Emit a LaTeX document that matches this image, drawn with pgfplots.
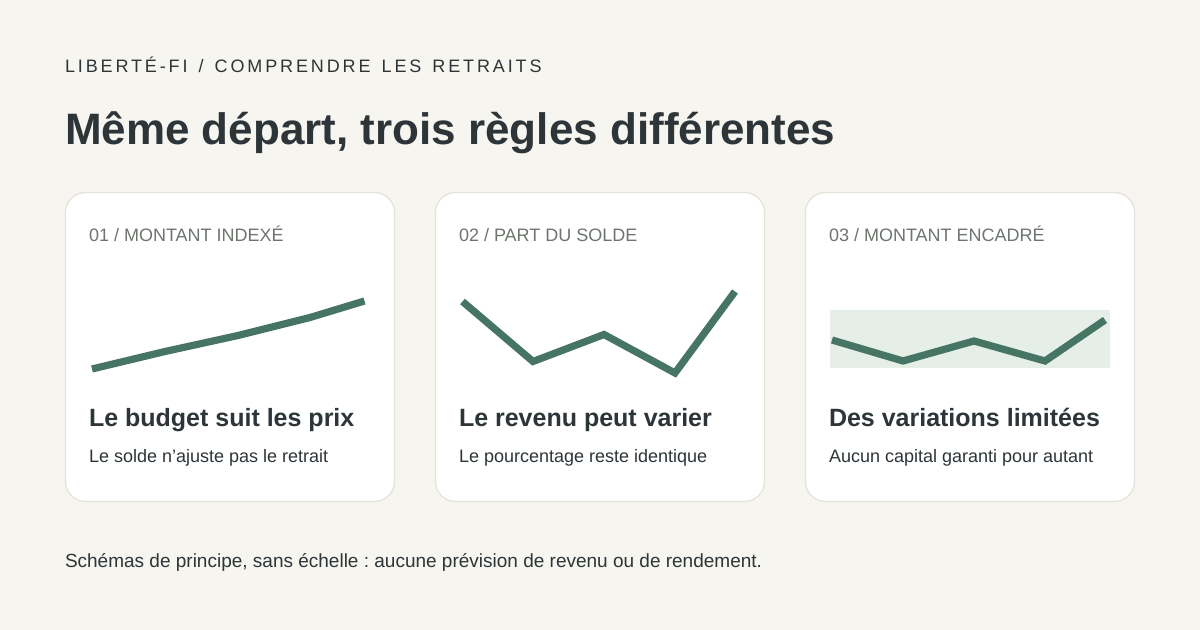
\documentclass[border=0pt]{standalone}
\usepackage{pgfplots}
\pgfplotsset{compat=1.18}
\usepackage{fontspec}
\setmainfont{Liberation Sans}
\newfontfamily\eyebrowfont[LetterSpace=16,WordSpace=1.4]{Liberation Sans}
\frenchspacing
\definecolor{bg}{HTML}{F6F5F0}
\definecolor{ink}{HTML}{2D3538}
\definecolor{muted}{HTML}{6E756E}
\definecolor{cardedge}{HTML}{E3E1DA}
\definecolor{green}{HTML}{477565}
\definecolor{band}{HTML}{E5EEE7}
\tikzset{txt/.style={anchor=base west, inner sep=0pt, outer sep=0pt},
  card/.style={draw=cardedge, fill=white, line width=0.9pt, rounded corners=15pt}}
\begin{document}
\begin{tikzpicture}
\begin{axis}[
  at={(0pt,0pt)}, anchor=south west,
  scale only axis, width=900pt, height=472.5pt,
  xmin=0, xmax=1200, ymin=0, ymax=630, y dir=reverse,
  axis lines=none, clip=false,
]
\fill[bg] (axis cs:0,0) rectangle (axis cs:1200,630);
\draw[card] (axis cs:65.5,192.5) rectangle (axis cs:394.5,501.5);
\draw[card] (axis cs:435.5,192.5) rectangle (axis cs:764.5,501.5);
\draw[card] (axis cs:805.5,192.5) rectangle (axis cs:1134.5,501.5);
% band
\addplot[draw=none, fill=band] coordinates {(830,310) (1110,310) (1110,368) (830,368)} -- cycle;
% lines
\addplot[green, line width=5.4pt, line join=miter] coordinates {(92,369) (165,351.5) (238,335.5) (310,317.5) (364.5,301)};
\addplot[green, line width=5.4pt, line join=miter] coordinates {(462.5,301.5) (533,361.5) (604,334.5) (675,373) (735,291.5)};
\addplot[green, line width=5.4pt, line join=miter] coordinates {(832,340) (903,361) (974,341) (1045,361) (1105,320)};
% texts
\node[txt, text=ink] at (axis cs:65,72.5) {\fontsize{13.5}{16}\eyebrowfont LIBERTÉ-FI / COMPRENDRE LES RETRAITS};
\node[txt, text=ink] at (axis cs:65,144.5) {\fontsize{33}{40}\selectfont\bfseries Même départ, trois règles différentes};
\node[txt, text=muted] at (axis cs:89,241.5) {\fontsize{13.5}{16}\selectfont 01 / MONTANT INDEXÉ};
\node[txt, text=muted] at (axis cs:459,241.5) {\fontsize{13.5}{16}\selectfont 02 / PART DU SOLDE};
\node[txt, text=muted] at (axis cs:829,241.5) {\fontsize{13.5}{16}\selectfont 03 / MONTANT ENCADRÉ};
\node[txt, text=ink] at (axis cs:89,426.7) {\fontsize{18.75}{22}\selectfont\bfseries Le budget suit les prix};
\node[txt, text=ink] at (axis cs:459,426.7) {\fontsize{18.75}{22}\selectfont\bfseries Le revenu peut varier};
\node[txt, text=ink] at (axis cs:829,426.7) {\fontsize{18.75}{22}\selectfont\bfseries Des variations limitées};
\node[txt, text=ink] at (axis cs:89,462.4) {\fontsize{13.5}{16}\selectfont Le solde n’ajuste pas le retrait};
\node[txt, text=ink] at (axis cs:459,462.4) {\fontsize{13.5}{16}\selectfont Le pourcentage reste identique};
\node[txt, text=ink] at (axis cs:829,462.4) {\fontsize{13.5}{16}\selectfont Aucun capital garanti pour autant};
\node[txt, text=ink] at (axis cs:65,567.4) {\fontsize{14.25}{17}\selectfont Schémas de principe, sans échelle : aucune prévision de revenu ou de rendement.};
\end{axis}
\end{tikzpicture}
\end{document}
